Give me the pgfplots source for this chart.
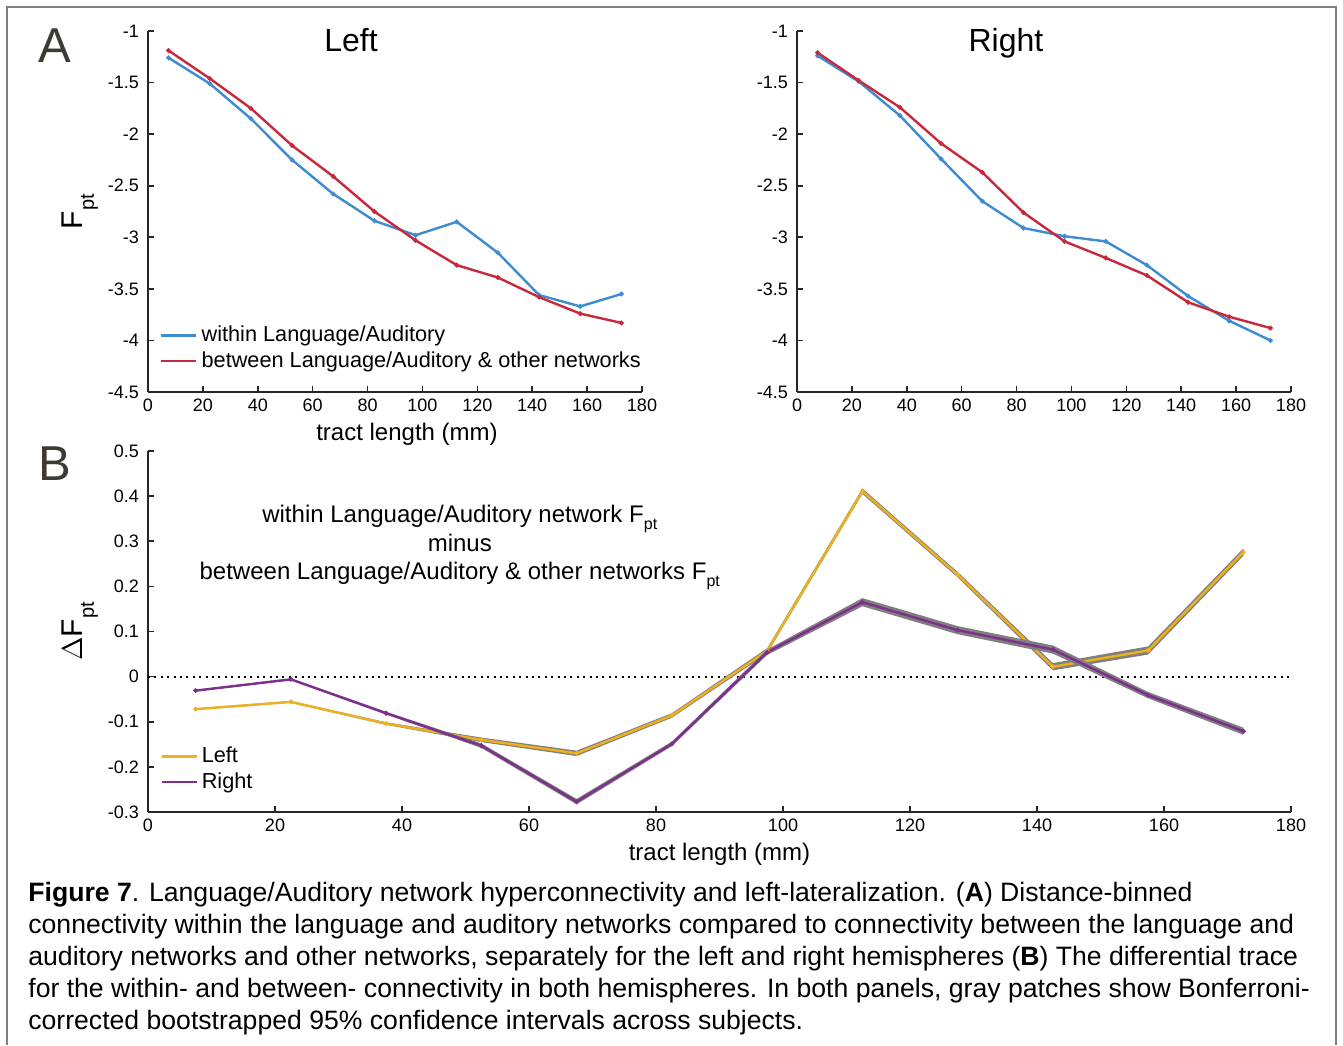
\documentclass[border=0pt]{standalone}
\usepackage{fontspec}
\setmainfont{Liberation Sans}
\usepackage{pgfplots}
\pgfplotsset{compat=1.18}

\definecolor{cblue}{HTML}{3D8BD0}
\definecolor{cred}{HTML}{C8283C}
\definecolor{corange}{HTML}{EDB120}
\definecolor{cpurple}{HTML}{7E2F8E}
\definecolor{cband}{HTML}{7F7F7F}
\definecolor{cframe}{HTML}{808080}
\definecolor{cletter}{HTML}{3D3935}

\newcommand{\sub}[2]{\raisebox{#1}{\fontsize{#2}{#2}\selectfont pt}}

\pgfplotsset{
  fig/.style={
    scale only axis, axis lines=left,
    axis line style={-, line width=1pt, draw=black!85},
    tick align=inside, major tick length=3pt,
    tick style={line width=0.8pt, draw=black!85},
    xmin=0, xmax=180, xtick={0,20,...,180},
    ticklabel style={font=\fontsize{9}{9}\selectfont},
    yticklabel style={xshift=-1pt},
    /pgf/number format/assume math mode=true,
    label style={font=\fontsize{12}{12}\selectfont},
    xlabel style={at={(axis description cs:0.5,0)}, anchor=north, yshift=-12pt},
    ylabel style={at={(axis description cs:0,0.5)}, anchor=base, yshift=33pt},
    legend cell align=left,
    legend image code/.code={\draw[#1] (0pt,0pt) -- (17.5pt,0pt);},
    legend style={draw=none, fill=none, inner sep=0pt,
      font=\fontsize{10.85}{10.85}\selectfont, row sep=-0.5pt},
    clip=false,
  },
  ser/.style={draw=#1, line width=1.2pt, mark=*, mark size=0.5pt, mark options={fill=#1}},
  band/.style={fill=cband, draw=none, forget plot},
}

\begin{document}
\begin{tikzpicture}
\useasboundingbox (0,0) rectangle (671.5pt,-522.5pt);
\draw[cframe, line width=1pt] (3.5pt,-522.5pt) -- (3.5pt,-3.5pt) -- (668pt,-3.5pt) -- (668pt,-522.5pt);

% A, left hemisphere
\begin{axis}[fig, at={(74pt,-196pt)}, anchor=south west,
  width=247pt, height=180.5pt,
  ymin=-4.5, ymax=-1, ytick={-4.5,-4,-3.5,-3,-2.5,-2,-1.5,-1},
  xlabel={tract length (mm)},
  xlabel style={xshift=6pt},
  ylabel={\fontsize{15}{15}\selectfont F\sub{-6pt}{10}},
  title={Left},
  title style={at={(axis description cs:0.411,0.909)}, anchor=base, font=\fontsize{16}{16}\selectfont},
  legend style={at={(axis description cs:0.024,0.195)}, anchor=north west},
]
\addplot[ser=cblue] coordinates {
 (7.5,-1.26) (22.5,-1.51) (37.5,-1.85) (52.5,-2.25) (67.5,-2.58) (82.5,-2.84)
 (97.5,-2.98) (112.5,-2.85) (127.5,-3.15) (142.5,-3.56) (157.5,-3.67) (172.5,-3.55)
};
\addlegendentry{within Language/Auditory}
\addplot[ser=cred] coordinates {
 (7.5,-1.19) (22.5,-1.46) (37.5,-1.75) (52.5,-2.11) (67.5,-2.41) (82.5,-2.75)
 (97.5,-3.03) (112.5,-3.27) (127.5,-3.39) (142.5,-3.58) (157.5,-3.74) (172.5,-3.83)
};
\addlegendentry{between Language/Auditory \& other networks}
\end{axis}

% A, right hemisphere
\begin{axis}[fig, at={(398.5pt,-196pt)}, anchor=south west,
  width=247pt, height=180.5pt,
  ymin=-4.5, ymax=-1, ytick={-4.5,-4,-3.5,-3,-2.5,-2,-1.5,-1},
  title={Right},
  title style={at={(axis description cs:0.423,0.909)}, anchor=base, font=\fontsize{16}{16}\selectfont},
]
\addplot[ser=cblue] coordinates {
 (7.5,-1.24) (22.5,-1.49) (37.5,-1.82) (52.5,-2.24) (67.5,-2.65) (82.5,-2.91)
 (97.5,-2.99) (112.5,-3.04) (127.5,-3.27) (142.5,-3.57) (157.5,-3.81) (172.5,-4.00)
};
\addplot[ser=cred] coordinates {
 (7.5,-1.21) (22.5,-1.48) (37.5,-1.74) (52.5,-2.09) (67.5,-2.37) (82.5,-2.76)
 (97.5,-3.04) (112.5,-3.20) (127.5,-3.37) (142.5,-3.63) (157.5,-3.77) (172.5,-3.88)
};
\end{axis}

% B, difference
\begin{axis}[fig, at={(74pt,-406pt)}, anchor=south west,
  width=571.5pt, height=180.5pt,
  ymin=-0.3, ymax=0.5, ytick={-0.3,-0.2,-0.1,0,0.1,0.2,0.3,0.4,0.5},
  xlabel={tract length (mm)},
  ylabel={\fontsize{15}{15}\selectfont $\Delta$F\sub{-6pt}{10}},
  legend style={at={(axis description cs:0.0105,0.192)}, anchor=north west},
]
\addplot[black, line width=0.9pt, dash pattern=on 1pt off 2.2pt, forget plot] coordinates {(0,0) (180,0)};
% gray patches: upper bound then lower bound reversed
\addplot[band] coordinates {
 (7.5,-0.070) (22.5,-0.054) (37.5,-0.101) (52.5,-0.135) (67.5,-0.164) (82.5,-0.081)
 (97.5,0.063) (112.5,0.417) (127.5,0.232) (142.5,0.030) (157.5,0.067) (172.5,0.284)
 (172.5,0.268) (157.5,0.049) (142.5,0.014) (127.5,0.220) (112.5,0.405) (97.5,0.051)
 (82.5,-0.091) (67.5,-0.176) (52.5,-0.145) (37.5,-0.107) (22.5,-0.058) (7.5,-0.074)
} -- cycle;
\addplot[ser=corange] coordinates {
 (7.5,-0.072) (22.5,-0.056) (37.5,-0.104) (52.5,-0.140) (67.5,-0.170) (82.5,-0.086)
 (97.5,0.057) (112.5,0.411) (127.5,0.226) (142.5,0.022) (157.5,0.058) (172.5,0.276)
};
\addlegendentry{Left}
\addplot[band] coordinates {
 (7.5,-0.029) (22.5,-0.004) (37.5,-0.078) (52.5,-0.148) (67.5,-0.271) (82.5,-0.144)
 (97.5,0.060) (112.5,0.174) (127.5,0.112) (142.5,0.069) (157.5,-0.034) (172.5,-0.113)
 (172.5,-0.129) (157.5,-0.048) (142.5,0.051) (127.5,0.094) (112.5,0.156) (97.5,0.048)
 (82.5,-0.154) (67.5,-0.283) (52.5,-0.158) (37.5,-0.084) (22.5,-0.008) (7.5,-0.033)
} -- cycle;
\addplot[ser=cpurple] coordinates {
 (7.5,-0.031) (22.5,-0.006) (37.5,-0.081) (52.5,-0.153) (67.5,-0.277) (82.5,-0.149)
 (97.5,0.054) (112.5,0.165) (127.5,0.103) (142.5,0.060) (157.5,-0.041) (172.5,-0.121)
};
\addlegendentry{Right}
\node[anchor=base, font=\fontsize{12}{12}\selectfont] at (axis cs:49.1,0.341)
  {within Language/Auditory network F\sub{-3.5pt}{8}};
\node[anchor=base, font=\fontsize{12}{12}\selectfont] at (axis cs:49.1,0.277) {minus};
\node[anchor=base, font=\fontsize{12}{12}\selectfont] at (axis cs:49.1,0.215)
  {between Language/Auditory \& other networks F\sub{-3.5pt}{8}};
\end{axis}

\node[anchor=base, text=cletter, font=\fontsize{24.5}{24.5}\selectfont, inner sep=0pt] at (27.5pt,-31pt) {A};
\node[anchor=base, text=cletter, font=\fontsize{24.5}{24.5}\selectfont, inner sep=0pt] at (27.5pt,-240pt) {B};

\node[anchor=north west, align=left, inner sep=0pt, font=\fontsize{13.3}{16}\selectfont] at (14pt,-441pt) {%
\textbf{Figure 7}. Language/Auditory network hyperconnectivity and left-lateralization. (\textbf{A}) Distance-binned\\
connectivity within the language and auditory networks compared to connectivity between the language and\\
auditory networks and other networks, separately for the left and right hemispheres (\textbf{B}) The differential trace\\
for the within- and between- connectivity in both hemispheres. In both panels, gray patches show Bonferroni-\\
corrected bootstrapped 95\% confidence intervals across subjects.};
\end{tikzpicture}
\end{document}
